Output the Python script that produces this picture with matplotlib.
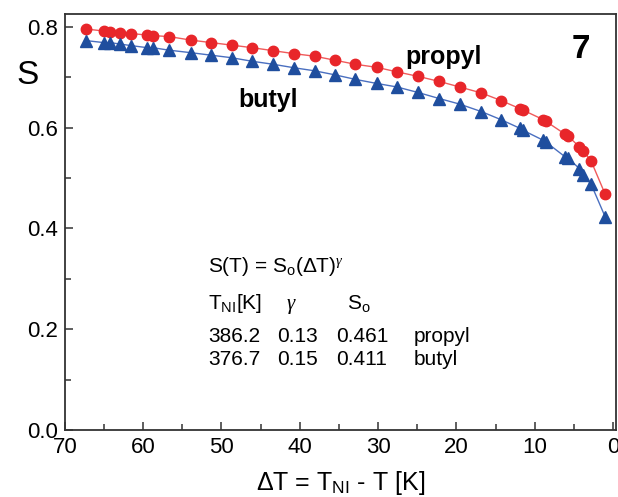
import numpy as np
import matplotlib
matplotlib.use("Agg")
import matplotlib.pyplot as plt
from matplotlib.ticker import MultipleLocator

plt.rcParams['font.family'] = ['Liberation Sans', 'DejaVu Sans']
plt.rcParams['mathtext.fontset'] = 'custom'
plt.rcParams['mathtext.rm'] = 'Liberation Sans'
plt.rcParams['mathtext.it'] = 'Liberation Serif:italic'

# data
dT = [67.3, 65.0, 64.2, 62.9, 61.5, 59.5, 58.8, 56.7, 53.9, 51.3, 48.7, 46.1,
      43.4, 40.7, 38.1, 35.5, 32.9, 30.2, 27.6, 24.9, 22.2, 19.6, 16.8, 14.3,
      11.9, 11.5, 8.9, 8.6, 6.1, 5.7, 4.3, 3.8, 2.8, 1.0]
S_propyl = [0.796, 0.792, 0.791, 0.789, 0.787, 0.784, 0.783, 0.781, 0.774,
            0.769, 0.764, 0.759, 0.753, 0.747, 0.742, 0.734, 0.726, 0.720,
            0.711, 0.702, 0.692, 0.681, 0.669, 0.654, 0.638, 0.635, 0.616,
            0.613, 0.587, 0.583, 0.562, 0.554, 0.534, 0.468]
S_butyl = [0.773, 0.769, 0.769, 0.766, 0.763, 0.759, 0.759, 0.754, 0.749,
           0.744, 0.739, 0.732, 0.726, 0.719, 0.713, 0.705, 0.696, 0.688,
           0.681, 0.670, 0.658, 0.647, 0.632, 0.616, 0.599, 0.595, 0.575,
           0.572, 0.542, 0.539, 0.519, 0.506, 0.488, 0.423]

fit_rows = [["386.2", "0.13", "0.461", "propyl"],
            ["376.7", "0.15", "0.411", "butyl"]]

red = "#e8262a"
blue = "#1f4e9e"

fig = plt.figure(figsize=(6.18, 4.97), dpi=100)
ax = fig.add_axes([0.105, 0.135, 0.892, 0.837])

ax.plot(dT, S_propyl, color="#f05a5a", lw=1.0, zorder=2)
ax.plot(dT, S_propyl, "o", color=red, ms=7.5, mec=red, zorder=3)
ax.plot(dT, S_butyl, color="#4a6fc0", lw=1.0, zorder=2)
ax.plot(dT, S_butyl, "^", color=blue, ms=8, mec=blue, zorder=3)

ax.set_xlim(70, -0.4)
ax.set_ylim(0, 0.826)
ax.xaxis.set_major_locator(MultipleLocator(10))
ax.xaxis.set_minor_locator(MultipleLocator(5))
ax.yaxis.set_major_locator(MultipleLocator(0.2))
ax.yaxis.set_minor_locator(MultipleLocator(0.1))
ax.tick_params(which="both", direction="in", labelsize=16, color="#333333",
               width=1.1, top=False, right=False)
ax.tick_params(which="major", length=6, pad=5)
ax.tick_params(which="minor", length=4)
for s in ax.spines.values():
    s.set_linewidth(1.3)
    s.set_color("#333333")

ax.set_ylabel("S", fontsize=24, rotation=0, va="center", ha="center")
ax.yaxis.set_label_coords(-0.067, 0.853)
ax.set_xlabel(r"$\Delta$T = T$_\mathregular{NI}$ - T [K]", fontsize=18)
ax.xaxis.set_label_coords(0.5, -0.095)

ax.text(21.6, 0.727, "propyl", fontsize=18, fontweight="bold", ha="center", va="baseline")
ax.text(44.1, 0.641, "butyl", fontsize=18, fontweight="bold", ha="center", va="baseline")
ax.text(4.1, 0.738, "7", fontsize=24, fontweight="bold", ha="center", va="baseline")

fs = 15
ax.text(51.7, 0.313, r"S(T) = S$_\mathregular{o}$($\Delta$T)$^{\gamma}$", fontsize=fs, va="baseline")
ax.text(51.7, 0.241, r"T$_\mathregular{NI}$[K]", fontsize=fs, va="baseline")
ax.text(41.7, 0.241, r"$\gamma$", fontsize=fs, va="baseline")
ax.text(34.0, 0.241, r"S$_\mathregular{o}$", fontsize=fs, va="baseline")
col_x = [51.7, 42.95, 35.3, 25.5]
row_y = [0.175, 0.129]
for row, yy in zip(fit_rows, row_y):
    for txt, xx in zip(row, col_x):
        ax.text(xx, yy, txt, fontsize=fs, va="baseline")

fig.savefig("out.png", dpi=100)
